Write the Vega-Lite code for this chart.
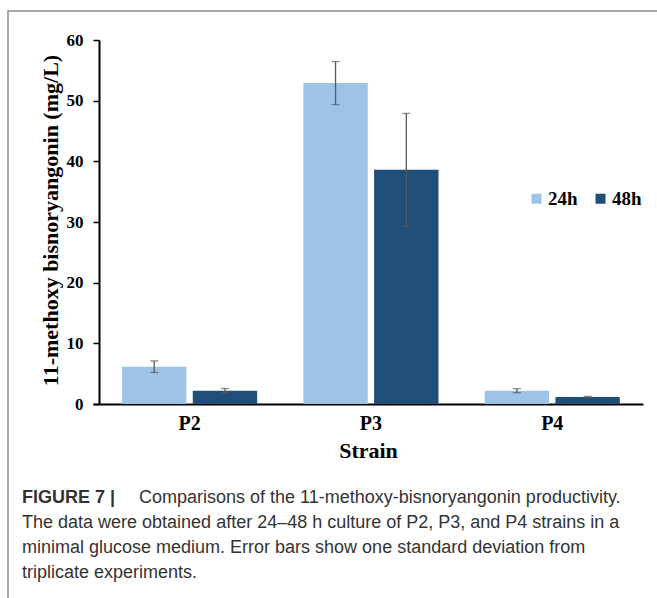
{
  "$schema": "https://vega.github.io/schema/vega-lite/v6.json",
  "width": 649,
  "height": 587,
  "autosize": {"type": "none"},
  "padding": {"left": 8, "top": 11, "right": 0, "bottom": 0},
  "background": "white",
  "config": {
    "view": {"stroke": "#8a8a8a", "strokeWidth": 1.5, "strokeDash": [649, 1236, 587, 30]},
    "font": "Liberation Serif"
  },
  "title": {
    "text": "FIGURE 7 |",
    "subtitle": [
      "\u200b\u2002\u2002\u2002\u2002\u2002\u2002\u2002\u2002\u2002\u2002\u2002\u2002\u2002Comparisons of the 11-methoxy-bisnoryangonin productivity.",
      "The data were obtained after 24–48 h culture of P2, P3, and P4 strains in a",
      "minimal glucose medium. Error bars show one standard deviation from",
      "triplicate experiments."
    ],
    "orient": "bottom",
    "anchor": "start",
    "frame": "group",
    "offset": -109,
    "dx": 14,
    "font": "Liberation Sans",
    "fontSize": 18,
    "fontWeight": "bold",
    "color": "#333333",
    "subtitleFont": "Liberation Sans",
    "subtitleFontSize": 18,
    "subtitleFontWeight": "normal",
    "subtitleColor": "#333333",
    "subtitleLineHeight": 25,
    "subtitlePadding": -18
  },
  "data": {
    "values": [
      {"strain": "P2", "time": "24h", "value": 6.15, "lo": 5.2, "hi": 7.1},
      {"strain": "P2", "time": "48h", "value": 2.2, "lo": 1.85, "hi": 2.55},
      {"strain": "P3", "time": "24h", "value": 52.9, "lo": 49.35, "hi": 56.45},
      {"strain": "P3", "time": "48h", "value": 38.6, "lo": 29.3, "hi": 47.9},
      {"strain": "P4", "time": "24h", "value": 2.2, "lo": 1.87, "hi": 2.53},
      {"strain": "P4", "time": "48h", "value": 1.15, "lo": 1.05, "hi": 1.25}
    ]
  },
  "encoding": {
    "x": {
      "field": "strain",
      "type": "nominal",
      "scale": {"range": [85, 635], "paddingInner": 0.255, "paddingOuter": 0.144, "align": 0.556},
      "axis": {
        "orient": "bottom",
        "offset": -194,
        "domainColor": "black",
        "domainWidth": 2,
        "ticks": false,
        "labelAngle": 0,
        "labelFont": "Liberation Serif",
        "labelFontSize": 20,
        "labelFontWeight": "bold",
        "labelColor": "black",
        "labelPadding": 9,
        "title": "Strain",
        "titleFont": "Liberation Serif",
        "titleFontSize": 22,
        "titleFontWeight": "bold",
        "titleColor": "black",
        "titlePadding": 7
      }
    },
    "xOffset": {"field": "time", "type": "nominal", "scale": {"paddingInner": 0.09}}
  },
  "layer": [
    {
      "mark": {"type": "bar"},
      "encoding": {
        "y": {
          "field": "value",
          "type": "quantitative",
          "scale": {"domain": [0, 60], "range": [393, 29], "nice": false},
          "axis": {
            "orient": "left",
            "offset": -91,
            "values": [0, 10, 20, 30, 40, 50, 60],
            "grid": false,
            "domainColor": "black",
            "domainWidth": 2,
            "tickColor": "black",
            "tickWidth": 1.5,
            "tickSize": 6,
            "labelFont": "Liberation Serif",
            "labelFontSize": 17,
            "labelFontWeight": "bold",
            "labelColor": "black",
            "labelPadding": 10,
            "title": "11-methoxy bisnoryangonin (mg/L)",
            "titleFont": "Liberation Serif",
            "titleFontSize": 22,
            "titleFontWeight": "bold",
            "titleColor": "black",
            "titleX": -49,
            "titleY": 209,
            "titleAngle": 270,
            "titleAlign": "center",
            "titleBaseline": "middle"
          }
        },
        "color": {
          "field": "time",
          "type": "nominal",
          "scale": {"domain": ["24h", "48h"], "range": ["#9dc3e6", "#1f4e79"]},
          "legend": {
            "orient": "none",
            "legendX": 519,
            "legendY": 178,
            "direction": "horizontal",
            "title": null,
            "symbolType": "square",
            "symbolSize": 100,
            "symbolStrokeWidth": 0,
            "labelFont": "Liberation Serif",
            "labelFontSize": 19,
            "labelFontWeight": "bold",
            "labelColor": "black",
            "labelOffset": 2,
            "columnPadding": 13
          }
        }
      }
    },
    {
      "mark": {"type": "rule", "color": "#595959", "strokeWidth": 1.3},
      "encoding": {
        "y": {"field": "lo", "type": "quantitative"},
        "y2": {"field": "hi"}
      }
    },
    {
      "mark": {"type": "tick", "color": "#595959", "thickness": 1.3, "size": 8},
      "encoding": {"y": {"field": "hi", "type": "quantitative"}}
    },
    {
      "mark": {"type": "tick", "color": "#595959", "thickness": 1.3, "size": 8},
      "encoding": {"y": {"field": "lo", "type": "quantitative"}}
    }
  ]
}
